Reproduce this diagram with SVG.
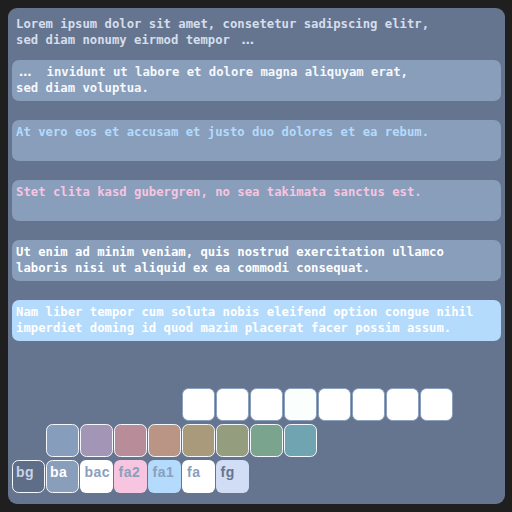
<svg xmlns="http://www.w3.org/2000/svg" width="512" height="512" viewBox="0 0 512 512">
<style>
.mono{font-family:"DejaVu Sans Mono","Liberation Mono",monospace;font-weight:bold;font-size:12.25px}
.ell{font-family:"DejaVu Sans","Liberation Sans",sans-serif;font-weight:bold;font-size:12.5px}
.box{fill:#889ebb}
.lbl{font-family:"Liberation Sans","Noto Sans",sans-serif;font-weight:bold;font-size:14px;letter-spacing:0.5px}
.sw2{stroke:#f4f7fc;stroke-width:1}
.sw1{fill:#ffffff;stroke:#8aa0bd;stroke-width:1}
</style>
<rect x="0" y="0" width="512" height="512" fill="#1f1f1f"/>
<g id="panel">
<rect x="8" y="8" width="497" height="496" rx="9" fill="#66758f"/>
<text class="mono" fill="#d5deec" x="16" y="28">Lorem ipsum dolor sit amet, consetetur sadipscing elitr,</text>
<text class="mono" fill="#d5deec" x="16" y="44">sed diam nonumy eirmod tempor <tspan class="ell" x="241.5">…</tspan></text>
</g>
<g id="box1">
<rect class="box" x="12" y="60" width="489" height="41" rx="7"/>
<text class="mono" fill="#f6f8fc" x="19" y="76"><tspan class="ell">…</tspan><tspan x="46.5">invidunt ut labore et dolore magna aliquyam erat,</tspan></text>
<text class="mono" fill="#f6f8fc" x="16" y="92">sed diam voluptua.</text>
</g>
<g id="box2">
<rect class="box" x="12" y="120" width="489" height="41" rx="7"/>
<text class="mono" fill="#b4dafc" x="16" y="136">At vero eos et accusam et justo duo dolores et ea rebum.</text>
</g>
<g id="box3">
<rect class="box" x="12" y="180" width="489" height="41" rx="7"/>
<text class="mono" fill="#f7c5e0" x="16" y="196">Stet clita kasd gubergren, no sea takimata sanctus est.</text>
</g>
<g id="box4">
<rect class="box" x="12" y="240" width="489" height="41" rx="7"/>
<text class="mono" fill="#ffffff" x="16" y="256">Ut enim ad minim veniam, quis nostrud exercitation ullamco</text>
<text class="mono" fill="#ffffff" x="16" y="272">laboris nisi ut aliquid ex ea commodi consequat.</text>
</g>
<g id="box5">
<rect x="12" y="300" width="489" height="41" rx="7" fill="#b4dafc"/>
<text class="mono" fill="#ffffff" x="16" y="316">Nam liber tempor cum soluta nobis eleifend option congue nihil</text>
<text class="mono" fill="#ffffff" x="16" y="332">imperdiet doming id quod mazim placerat facer possim assum.</text>
</g>
<g id="row1">
<rect class="sw1" x="182.5" y="388.5" width="32" height="32" rx="6"/>
<rect class="sw1" x="216.5" y="388.5" width="32" height="32" rx="6"/>
<rect class="sw1" x="250.5" y="388.5" width="32" height="32" rx="6"/>
<rect class="sw1" x="284.5" y="388.5" width="32" height="32" rx="6" style="fill:#fafffe"/>
<rect class="sw1" x="318.5" y="388.5" width="32" height="32" rx="6"/>
<rect class="sw1" x="352.5" y="388.5" width="32" height="32" rx="6"/>
<rect class="sw1" x="386.5" y="388.5" width="32" height="32" rx="6"/>
<rect class="sw1" x="420.5" y="388.5" width="32" height="32" rx="6"/>
</g>
<g id="row2">
<rect class="sw2" x="46.5" y="424.5" width="32" height="32" rx="6" fill="#869dbb"/>
<rect class="sw2" x="80.5" y="424.5" width="32" height="32" rx="6" fill="#a395b5"/>
<rect class="sw2" x="114.5" y="424.5" width="32" height="32" rx="6" fill="#b98c99"/>
<rect class="sw2" x="148.5" y="424.5" width="32" height="32" rx="6" fill="#ba9585"/>
<rect class="sw2" x="182.5" y="424.5" width="32" height="32" rx="6" fill="#a89a7a"/>
<rect class="sw2" x="216.5" y="424.5" width="32" height="32" rx="6" fill="#949e7f"/>
<rect class="sw2" x="250.5" y="424.5" width="32" height="32" rx="6" fill="#7ba48e"/>
<rect class="sw2" x="284.5" y="424.5" width="32" height="32" rx="6" fill="#6fa4b0"/>
</g>
<g id="row3">
<g id="sw-bg"><rect class="sw2" x="12.5" y="460.5" width="32" height="32" rx="6" fill="#5f6e88"/><text class="lbl" x="16" y="477" fill="#c8d3e6">bg</text></g>
<g id="sw-ba"><rect class="sw2" x="46.5" y="460.5" width="32" height="32" rx="6" fill="#889ebb"/><text class="lbl" x="50" y="477" fill="#ffffff">ba</text></g>
<g id="sw-bac"><rect x="80" y="460" width="33" height="33" rx="6" fill="#ffffff"/><text class="lbl" x="84.5" y="477" fill="#8aa0bd">bac</text></g>
<g id="sw-fa2"><rect x="114" y="460" width="33" height="33" rx="6" fill="#f7c5e0"/><text class="lbl" x="118.5" y="477" fill="#8aa0bd">fa2</text></g>
<g id="sw-fa1"><rect x="148" y="460" width="33" height="33" rx="6" fill="#b4dafc"/><text class="lbl" x="152.5" y="477" fill="#8aa0bd">fa1</text></g>
<g id="sw-fa"><rect x="182" y="460" width="33" height="33" rx="6" fill="#ffffff"/><text class="lbl" x="187" y="477" fill="#8aa0bd">fa</text></g>
<g id="sw-fg"><rect x="216" y="460" width="33" height="33" rx="6" fill="#d0ddf5"/><text class="lbl" x="220.5" y="477" fill="#66758f">fg</text></g>
</g>
<g id="connectors"/>
</svg>
